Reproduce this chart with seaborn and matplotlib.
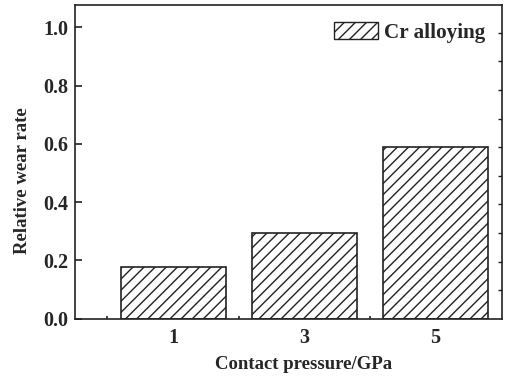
import matplotlib
matplotlib.use("Agg")
import matplotlib.pyplot as plt
from matplotlib.patches import Patch
from matplotlib.ticker import FixedLocator
import seaborn as sns
import pandas as pd

# Wear data
pressures = ["1", "3", "5"]
wear_rate = [0.178, 0.295, 0.59]
series_label = "Cr alloying"

df = pd.DataFrame({"pressure": pressures, "rate": wear_rate})

sns.set_style("ticks")
plt.rcParams["font.family"] = ["Liberation Serif", "DejaVu Serif"]
plt.rcParams["font.weight"] = "bold"
plt.rcParams["hatch.linewidth"] = 1.0
plt.rcParams["hatch.color"] = "black"

fig = plt.figure(figsize=(5.08, 3.77), dpi=100)
ax = fig.add_axes([0.1486, 0.1546, 0.9876 - 0.1486, 0.9875 - 0.1546])

sns.barplot(data=df, x="pressure", y="rate", color="white", edgecolor="#222222",
            linewidth=1.2, width=0.8, hatch="///", ax=ax, errorbar=None)

ax.set_xlim(-0.743, 2.504)
ax.set_ylim(0, 1.078)
ax.set_yticks([0.0, 0.2, 0.4, 0.6, 0.8, 1.0])
ax.set_yticklabels(["0.0", "0.2", "0.4", "0.6", "0.8", "1.0"])
ax.xaxis.set_minor_locator(FixedLocator([-0.5, 0.5, 1.5]))

ax.tick_params(axis="both", which="major", direction="in", length=5, width=1.2,
               labelsize=14.5, color="#222222")
ax.tick_params(axis="x", which="minor", direction="in", length=2.5, width=1.2,
               color="#222222")
ax.tick_params(axis="x", pad=7)
ax.tick_params(axis="y", pad=5)
for lab in ax.get_xticklabels() + ax.get_yticklabels():
    lab.set_fontweight("bold")

ax.set_xlabel("Contact pressure/GPa", fontsize=13.5, fontweight="bold")
ax.set_ylabel("Relative wear rate", fontsize=13.5, fontweight="bold")
ax.xaxis.set_label_coords(0.536, -0.118)
ax.yaxis.set_label_coords(-0.104, 0.44)

for s in ax.spines.values():
    s.set_visible(True)
    s.set_linewidth(1.2)
    s.set_color("#222222")

# Unlabelled secondary scale on the right
ax2 = ax.twinx()
ax2.set_ylim(0, 1.098)
ax2.set_yticks([0.1 * i for i in range(1, 11)])
ax2.tick_params(axis="y", direction="in", length=3, width=1.0, labelright=False,
                color="#222222")
for s in ax2.spines.values():
    s.set_visible(False)

handle = Patch(facecolor="white", edgecolor="#222222", hatch="///", linewidth=1.0)
ax.legend(handles=[handle], labels=[series_label], loc="upper right",
          bbox_to_anchor=(0.997, 0.992), frameon=False,
          prop={"size": 15.2, "weight": "bold"}, handlelength=2.1,
          handleheight=0.85, handletextpad=0.3, borderaxespad=0.3)

fig.savefig("out.png", dpi=100)
